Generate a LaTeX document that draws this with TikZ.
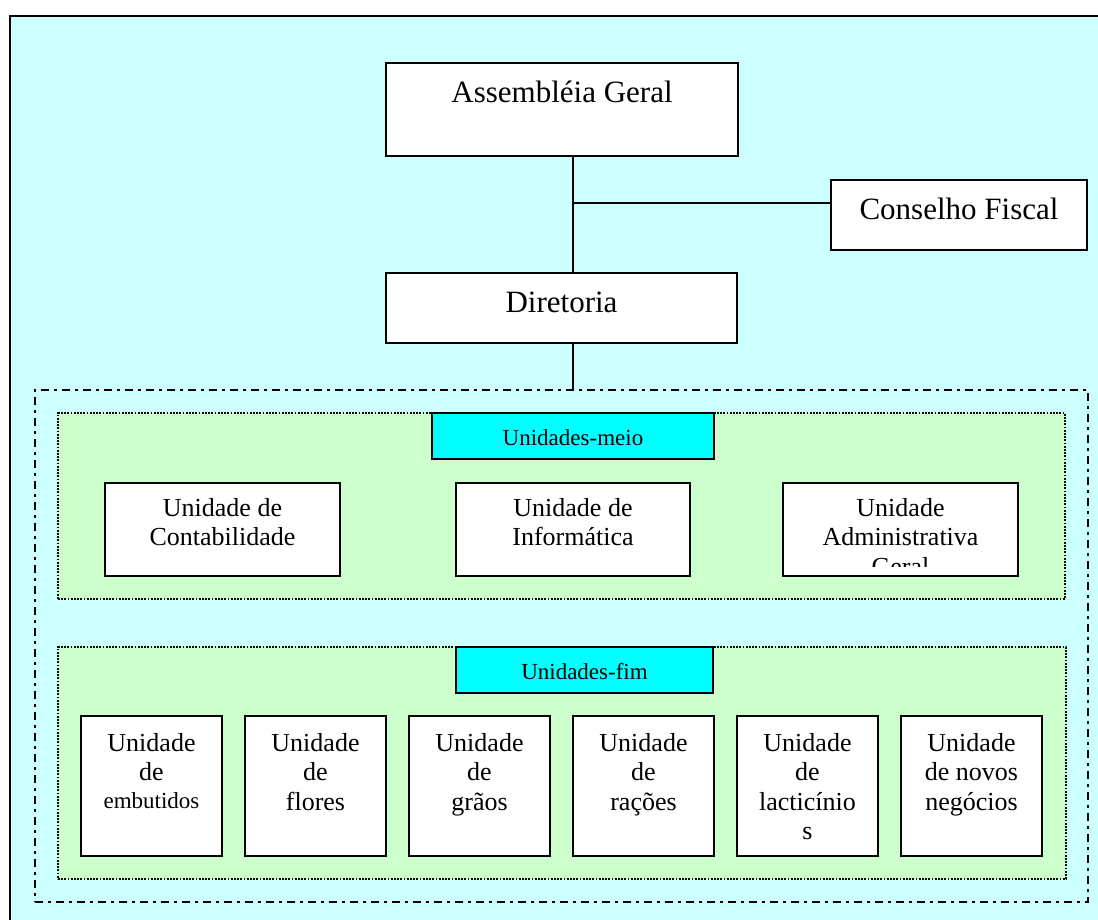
\documentclass[tikz,border=0pt]{standalone}
\usepackage{fontspec}
\setmainfont{Liberation Serif}
\definecolor{paper}{HTML}{CCFFFF}
\definecolor{groupfill}{HTML}{CCFFCC}
\definecolor{tagfill}{HTML}{00FFFF}
\begin{document}
\begin{tikzpicture}[x=1pt,y=-1pt,
  box/.style={draw=black, line width=1.4pt, fill=white, inner sep=0pt, outer sep=0pt, anchor=north west},
  tagbox/.style={box, fill=tagfill, minimum height=46pt, font=\fontsize{23pt}{27pt}\selectfont},
  group/.style={draw=black, line width=2.4pt, dash pattern=on 1.8pt off 1.4pt, fill=groupfill, inner sep=0pt, outer sep=0pt, anchor=north west},
  bigtxt/.style={inner sep=0pt, font=\fontsize{31pt}{35pt}\selectfont},
  midtxt/.style={inner sep=0pt, anchor=north, align=center, font=\fontsize{26pt}{29.5pt}\selectfont},
  conn/.style={draw=black, line width=1.4pt},
]
\useasboundingbox (0,0) rectangle (1098,920);
\clip (0,0) rectangle (1098,920);

% page background and outer frame
\node[draw=black, line width=2.5pt, fill=paper, inner sep=0pt, outer sep=0pt, anchor=north west,
      minimum width=1120pt, minimum height=940pt] (frame) at (10,16) {};

% top of the hierarchy
\node[box, minimum width=352pt, minimum height=93pt] (ag) at (386,63) {};
\node[bigtxt, anchor=base] (agtxt) at (562,102.7) {Assembléia Geral};

\node[box, minimum width=256pt, minimum height=70pt] (cf) at (831,180) {};
\node[bigtxt, anchor=base] (cftxt) at (959,220) {Conselho Fiscal};

\node[box, minimum width=351pt, minimum height=70pt] (dir) at (386,273) {};
\node[bigtxt, anchor=base] (dirtxt) at (561.5,312.7) {Diretoria};

% dash-dot frame holding both groups of units
\node[draw=black, line width=2.8pt, dash pattern=on 8pt off 5pt on 3pt off 5pt,
      inner sep=0pt, outer sep=0pt, anchor=north west,
      minimum width=1053pt, minimum height=512pt] (units) at (35,390) {};

% connectors
\coordinate (trunk) at (573,0);
\coordinate (junc) at (573,203);
\draw[conn] (ag.south -| trunk) -- (dir.north -| trunk);
\draw[conn] (junc) -- (junc -| cf.west);
\draw[conn] (dir.south -| trunk) -- (trunk |- units.north);

% support units
\node[group, minimum width=1007pt, minimum height=186pt] (meio) at (58,413) {};
\node[tagbox, minimum width=282pt] (meiotag) at (432,413) {};
\node[inner sep=0pt, anchor=base, font=\fontsize{23pt}{27pt}\selectfont] (meiotxt) at (573,445) {Unidades-meio};

\node[box, minimum width=235pt, minimum height=93pt] (ucont) at (105,483) {};
\node[midtxt] (ucontt) at (222.5,498) {Unidade de\\Contabilidade};
\node[box, minimum width=234pt, minimum height=93pt] (uinf) at (456,483) {};
\node[midtxt] (uinft) at (573,498) {Unidade de\\Informática};
\node[box, minimum width=235pt, minimum height=93pt] (uadm) at (783,483) {};
\begin{scope}
  \clip (784,484) rectangle (1017,566);
  \node[midtxt] (uadmt) at (900.5,498) {Unidade\\Administrativa\\Geral};
\end{scope}

% end units
\node[group, minimum width=1008pt, minimum height=232pt] (fim) at (58,647) {};
\node[tagbox, minimum width=257pt] (fimtag) at (456,647) {};
\node[inner sep=0pt, anchor=base, font=\fontsize{23pt}{27pt}\selectfont] (fimtxt) at (584.5,679) {Unidades-fim};

\node[box, minimum width=141pt, minimum height=140pt] (f0) at (81,716) {};
\node[midtxt] (f0t) at (151.5,733) {Unidade\\de\\[-2pt]{\fontsize{23pt}{27pt}\selectfont embutidos}};
\node[box, minimum width=141pt, minimum height=140pt] (f1) at (245,716) {};
\node[midtxt] (f1t) at (315.5,733) {Unidade\\de\\flores};
\node[box, minimum width=141pt, minimum height=140pt] (f2) at (409,716) {};
\node[midtxt] (f2t) at (479.5,733) {Unidade\\de\\grãos};
\node[box, minimum width=141pt, minimum height=140pt] (f3) at (573,716) {};
\node[midtxt] (f3t) at (643.5,733) {Unidade\\de\\rações};
\node[box, minimum width=141pt, minimum height=140pt] (f4) at (737,716) {};
\node[midtxt] (f4t) at (807.5,733) {Unidade\\de\\lacticínio\\s};
\node[box, minimum width=141pt, minimum height=140pt] (f5) at (901,716) {};
\node[midtxt] (f5t) at (971.5,733) {Unidade\\de novos\\negócios};
\end{tikzpicture}
\end{document}
